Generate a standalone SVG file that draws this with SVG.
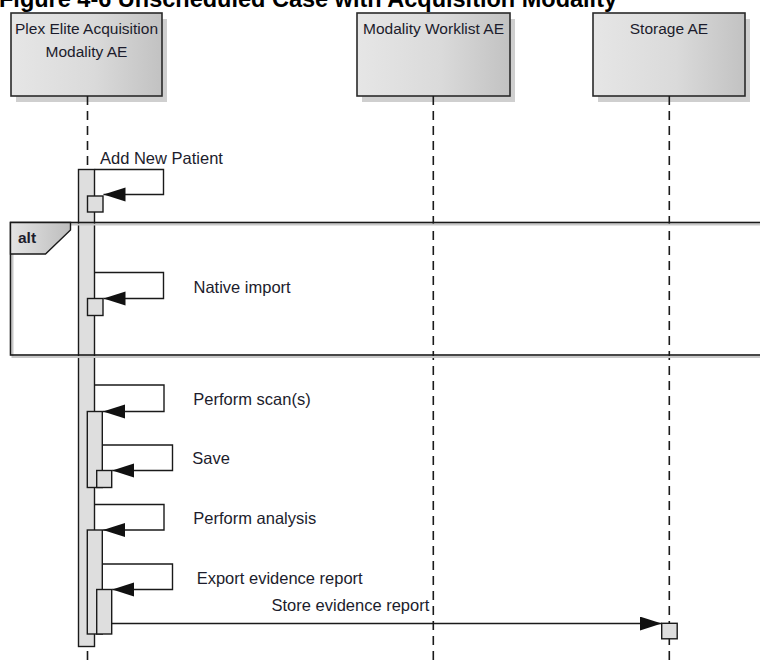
<svg xmlns="http://www.w3.org/2000/svg" width="760" height="666" viewBox="0 0 760 666">
  <defs>
    <linearGradient id="boxFill" x1="0" y1="0" x2="1" y2="0">
      <stop offset="0" stop-color="#e6e6e6"/>
      <stop offset="0.55" stop-color="#dadada"/>
      <stop offset="1" stop-color="#c2c2c2"/>
    </linearGradient>
    <linearGradient id="tagFill" x1="0" y1="0" x2="1" y2="0">
      <stop offset="0" stop-color="#e4e4e4"/>
      <stop offset="1" stop-color="#bdbdbd"/>
    </linearGradient>
    <marker id="arrow" markerUnits="userSpaceOnUse" markerWidth="23" markerHeight="15" refX="22" refY="7" orient="auto">
      <path d="M0,0 L22,7 L0,14 Z" fill="#111"/>
    </marker>
  </defs>
  <style>
    .head { fill: url(#boxFill); stroke: #2a2a2a; stroke-width: 1.6; }
    .shadow { fill: #cfcfcf; }
    .life { stroke: #1a1a1a; stroke-width: 1.6; stroke-dasharray: 9 6; fill: none; }
    .act { fill: #dedede; stroke: #1a1a1a; stroke-width: 1.4; }
    .msg { fill: none; stroke: #1a1a1a; stroke-width: 1.4; marker-end: url(#arrow); }
    .frame { fill: none; stroke: #1a1a1a; stroke-width: 1.6; }
    .frameShadow { fill: none; stroke: #c8c8c8; stroke-width: 2; }
    .lbl { font-family: "Liberation Sans", Arial, sans-serif; font-size: 15.5px; fill: #1c1c2c; }
    .txt { font-family: "Liberation Sans", Arial, sans-serif; font-size: 16.5px; fill: #1c1c2c; }
    .title { font-family: "Liberation Sans", Arial, sans-serif; font-size: 23.5px; font-weight: bold; fill: #000; }
  </style>

  <rect width="760" height="666" fill="#fff"/>

  <text class="title" x="-1" y="7">Figure 4-6 Unscheduled Case with Acquisition Modality</text>

  <!-- Lifelines -->
  <g id="plex-elite">
    <rect class="shadow" x="16" y="19" width="151" height="83"/>
    <rect class="head" x="11" y="13" width="151" height="83"/>
    <text class="lbl" x="86.5" y="34" text-anchor="middle">Plex Elite Acquisition</text>
    <text class="lbl" x="86.5" y="56.5" text-anchor="middle">Modality AE</text>
    <line class="life" x1="87.5" y1="96" x2="87.5" y2="666"/>
  </g>
  <g id="worklist">
    <rect class="shadow" x="362" y="19" width="153" height="83"/>
    <rect class="head" x="357" y="13" width="153" height="83"/>
    <text class="lbl" x="433.5" y="34" text-anchor="middle">Modality Worklist AE</text>
    <line class="life" x1="433.3" y1="96" x2="433.3" y2="666"/>
  </g>
  <g id="storage">
    <rect class="shadow" x="598" y="19" width="152" height="83"/>
    <rect class="head" x="593" y="13" width="152" height="83"/>
    <text class="lbl" x="669" y="34" text-anchor="middle">Storage AE</text>
    <line class="life" x1="669.3" y1="96" x2="669.3" y2="666"/>
  </g>

  <!-- Activation bars -->
  <g id="activations">
    <rect class="act" x="78.5" y="169.5" width="16" height="477"/>
    <rect class="act" x="87.5" y="196" width="15.5" height="16"/>
    <rect class="act" x="87.5" y="298.5" width="15.5" height="17"/>
    <rect class="act" x="87.3" y="411.5" width="15" height="76"/>
    <rect class="act" x="96.7" y="470.5" width="15" height="17"/>
    <rect class="act" x="87.3" y="530" width="15" height="104"/>
    <rect class="act" x="96.7" y="589.5" width="15" height="44.5"/>
    <rect class="act" x="661.7" y="623.3" width="15.5" height="15.5"/>
  </g>

  <!-- Combined fragment -->
  <g id="alt-fragment">
    <rect class="frameShadow" x="12.5" y="224.5" width="760" height="132.5"/>
    <rect class="frame" x="10.5" y="222.5" width="760" height="132.5"/>
    <path d="M10.5,222.5 H70.5 V230 L45.5,254 H10.5 Z" fill="url(#tagFill)" stroke="#1a1a1a" stroke-width="1.4"/>
    <text x="18" y="242.5" font-family="Liberation Sans, Arial, sans-serif" font-size="15.5" font-weight="bold" fill="#1c1c2c">alt</text>
  </g>

  <!-- Messages -->
  <g id="connectors">
    <path class="msg" d="M94.5,169.5 H163.5 V194.5 H103.5"/>
    <path class="msg" d="M94.5,272.5 H163.5 V298.5 H103.5"/>
    <path class="msg" d="M94.5,385 H164 V411.5 H103"/>
    <path class="msg" d="M102.3,445 H172.5 V470.5 H112.2"/>
    <path class="msg" d="M94.5,504.5 H164 V530 H103"/>
    <path class="msg" d="M102.3,564 H172.5 V589.5 H112.2"/>
    <path class="msg" d="M111.7,623.5 H661.7"/>
  </g>

  <!-- Message labels -->
  <g id="labels">
    <text class="txt" x="100" y="164">Add New Patient</text>
    <text class="txt" x="193.5" y="293">Native import</text>
    <text class="txt" x="193.3" y="405">Perform scan(s)</text>
    <text class="txt" x="192.3" y="464">Save</text>
    <text class="txt" x="193.3" y="524">Perform analysis</text>
    <text class="txt" x="196.7" y="584">Export evidence report</text>
    <text class="txt" x="429.3" y="610.5" text-anchor="end">Store evidence report</text>
  </g>
</svg>
